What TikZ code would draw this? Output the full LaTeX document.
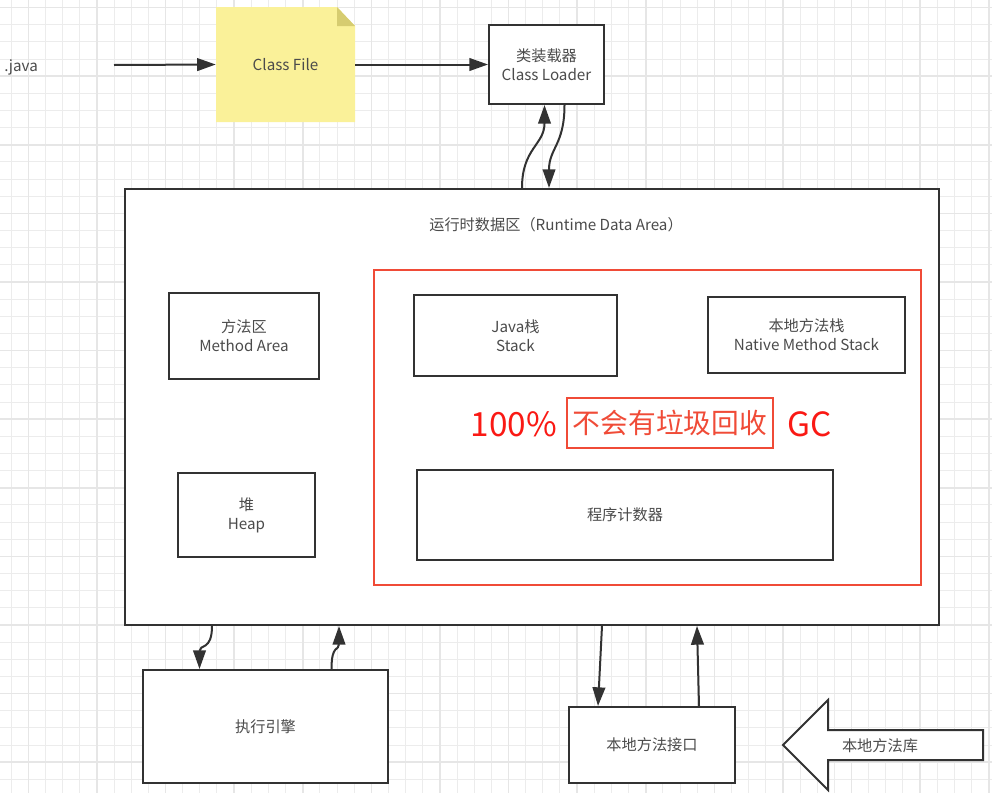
\documentclass[tikz,border=0pt]{standalone}
\usepackage{fontspec}
\setmainfont{Noto Sans CJK SC}
\usepackage{xcolor}
\usetikzlibrary{calc, arrows.meta}
\definecolor{gridthin}{RGB}{236,236,236}
\definecolor{gridbold}{RGB}{230,230,230}
\definecolor{boxline}{RGB}{50,50,50}
\definecolor{txtgray}{RGB}{75,75,75}
\definecolor{notefill}{RGB}{250,241,153}
\definecolor{notefold}{RGB}{214,204,112}
\definecolor{frame}{RGB}{240,75,55}
\definecolor{gcred}{RGB}{250,25,20}

\begin{document}
\begin{tikzpicture}[x=0.75pt, y=-0.75pt,
        every node/.style={font=\fontsize{11.4}{14.3}\selectfont, text=txtgray, align=center, inner sep=0pt},
        box/.style 2 args={draw=boxline, line width=1.5pt, fill=white, minimum width=#1*0.75pt, minimum height=#2*0.75pt},
        arr/.style={line width=1.5pt, draw=boxline, -{Triangle[length=14pt, width=9.5pt]}},
        redtext/.style={font=\fontsize{20.8}{24}\selectfont},
        bigred/.style={font=\fontsize{25}{28}\selectfont, text=gcred}]
        \useasboundingbox (0,0) rectangle (992,793);

        % grid
        \foreach \i in {0,...,57} \draw[gridthin, line width=0.75pt] ({11.15+17.15*\i},0) -- ({11.15+17.15*\i},793);
        \foreach \j in {0,...,45} \draw[gridthin, line width=0.75pt] (0,{7.6+17.15*\j}) -- (992,{7.6+17.15*\j});
        \foreach \i in {1,5,...,57} \draw[gridbold, line width=1.2pt] ({11.15+17.15*\i},0) -- ({11.15+17.15*\i},793);
        \foreach \j in {0,4,...,44} \draw[gridbold, line width=1.2pt] (0,{7.6+17.15*\j}) -- (992,{7.6+17.15*\j});

        % class file note
        \fill[notefill] (216,7) -- (337,7) -- (355,26) -- (355,122) -- (216,122) -- cycle;
        \fill[notefold] (337,7) -- (337,26) -- (355,26) -- cycle;
        \node[minimum width=139*0.75pt, minimum height=115*0.75pt] (cf) at (285.5,64.5) {Class File};
        \node[anchor=west] (java) at (4,67) {.java};
        \coordinate (jv) at (114,65);

        \node[box={115}{79}] (cl) at (546.5,64.5) {类装载器\\Class Loader};

        % runtime data area
        \node[box={814}{436}] (rt) at (532,407) {};
        \node (rtlabel) at (556,225) {运行时数据区（Runtime Data Area）};
        \node[draw=frame, line width=1.9pt, fill=white, minimum width=547*0.75pt, minimum height=315*0.75pt] (rf) at (647.5,427.5) {};

        \node[box={150}{86}] (ma) at (244,335.5) {方法区\\Method Area};
        \node[box={137}{84}] (heap) at (246.5,515) {堆\\Heap};
        \node[box={203}{81}] (js) at (515.5,335.5) {Java栈\\Stack};
        \node[box={197}{76}] (nms) at (806.5,335) {本地方法栈\\Native Method Stack};
        \node[box={416}{90}] (pc) at (625,515) {程序计数器};

        \node[bigred] (p100) at (514,424) {100\%};
        \node[redtext, text=frame, draw=frame, line width=1.3pt, minimum width=206*0.75pt, minimum height=50*0.75pt] (gcbox) at (670,423) {不会有垃圾回收};
        \node[bigred] (gc) at (810,424) {GC};

        % bottom
        \node[box={245}{113}] (ee) at (265.5,726.5) {执行引擎};
        \node[box={166}{76}] (ni) at (652,745) {本地方法接口};
        \draw[boxline, line width=1.5pt, fill=white] (783,745) -- (828,700) -- (828,730) -- (983,730) -- (983,760) -- (828,760) -- (828,790) -- cycle;
        \node (lib) at (880,746) {本地方法库};

        % arrows
        \draw[arr] (jv) -- (cf.west);
        \draw[arr] (cf.east) -- (cl.west);
        \draw[arr] ($(rt.north)+(-10,0)$) .. controls +(0,-40) and +(0,40) .. ($(cl.south)+(-2,0)$);
        \draw[arr] ($(cl.south)+(18,0)$) .. controls +(0,40) and +(0,-40) .. ($(rt.north)+(17,0)$);
        \draw[arr] ($(rt.south)+(-320,0)$) .. controls +(0,25) and +(0,-25) .. ($(ee.north)+(-66,0)$);
        \draw[arr] ($(ee.north)+(66,0)$) .. controls +(0,-25) and +(0,25) .. ($(rt.south)+(-193,0)$);
        \draw[arr] ($(rt.south)+(70,0)$) -- ($(ni.north)+(-54,0)$);
        \draw[arr] ($(ni.north)+(47,0)$) -- ($(rt.south)+(165,0)$);
    \end{tikzpicture}
\end{document}
